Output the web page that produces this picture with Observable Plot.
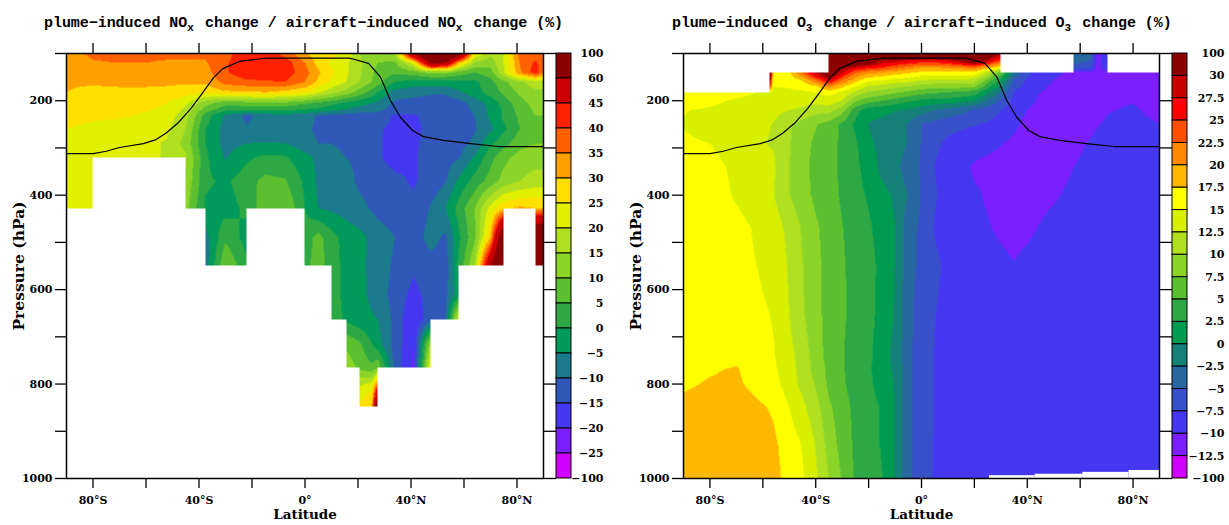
<!DOCTYPE html>
<html>
<head>
<meta charset="utf-8">
<script src="https://cdn.jsdelivr.net/npm/d3@7"></script>
<script src="https://cdn.jsdelivr.net/npm/@observablehq/plot@0.6"></script>
<style>
html,body{margin:0;padding:0;background:#fff}
#page{position:relative;width:1229px;height:525px;overflow:hidden;background:#fff}
#page>svg{position:absolute;top:0;background:transparent}
.ttl{position:absolute;top:15px;font:bold 15px "Liberation Mono",monospace;white-space:pre;color:#000}
.ttl sub{display:inline-block;width:8.9px;font-size:11px;line-height:0;vertical-align:-4px}
</style>
</head>
<body>
<div id="page"></div>
<script>
const _ = null;
const latTicks = [-80,-60,-40,-20,0,20,40,60,80];
const latLabels = {"-80":"80°S","-40":"40°S","0":"0°","40":"40°N","80":"80°N"};
const pTicks = [100,200,300,400,500,600,700,800,900,1000];
const pLabelled = [200,400,600,800,1000];

// NOx panel
const noxLevelsBar = [100,60,45,40,35,30,25,20,15,10,5,0,-5,-10,-15,-20,-25,-100];
const noxColors = ["#8b0000","#cc0000","#ff2000","#ff6000","#ffa000","#ffdf00","#e0f000","#b0e020","#8cd428","#5cbf30","#2ea845","#009b5a","#1d7a8c","#3058b8","#4638f0","#7b1fff","#d000ff"];
const noxLat = [-90,-80,-70,-60,-52,-45,-37.5,-30,-22,-15,-7.5,0,5,10,15.5,20.5,25.2,27.5,34,41,47.5,53,58,64,70,75,81,87,90];
const noxLev = [100,120,140,160,182,205,218,232,260,290,320,370,428,490,550,610,663,715,765,805,847];
const noxGrid = [
[33,36,37,37,37,37,36,38,44,44,38,31,27,26,24,15,13,12,15,62,90,90,70,25,16,20,37,37,37],
[32,34.5,35,35,34,34,34.5,39.5,43,43,43,35,28,24,21,16,12,10,9,22,62,60,30,14,12,20,35,41,37],
[31,31.5,32,32,32,32,33,39.5,43,43,43,37,31,26,21,16,11,8,6,8,12,12,8,5,8,19,34,43,36],
[30.5,30.5,31,31,31,31,31,37,39,39.5,40,35,29,24,20,15,10,7.5,0,-2,-2,-2,-1,-1,3,9,14,18,17],
[30,29,29,29,28.5,27,26.5,29,29,30,28,26,21,17,13,8,3,0,-7,-8,-9,-9,-6,-2,2,6,11,14,14],
[28,27.5,27,26.5,25,21,12,7,8,8.5,8.5,6,4,2,-1,-3,-5,-6,-11,-12,-13,-13,-12,-8,-3,2,8,12,12],
[27,26.5,26,25.5,24,19,8,2,2,2,2,0,-1,-3,-5,-7,-7.7,-8,-12.5,-13,-13.5,-13.5,-12.5,-9,-4,1,7,11,11],
[27,26,25.5,24.5,22.5,17,2.5,-6,-11,-8,-7,-8,-10.5,-11.5,-12,-12.5,-12.8,-13,-15.5,-15.5,-13.5,-13.5,-12.5,-10,-4,1,6,10,10],
[25,23.5,23,22,21,15,0,-7,-9.5,-8,-8,-9,-11,-13,-12,-12,-13.7,-14.5,-16,-16,-14,-13.5,-13,-10.5,-6,-1,5,9,9],
[22,21.5,21,21,19.5,13,0,-7,-5,-4.8,-5,-8,-10,-10,-11.5,-12,-13.7,-14.5,-16.5,-16,-13,-12,-12,-9,-1,3,8,10,10],
[22,21,21,21,19.5,16,1,-5.5,-1,1,0.5,-3.5,-6,-8,-10,-11,-14,-14.5,-16.5,-15.5,-13,-12,-10.5,-4.5,3.5,8.5,12,13,13],
[21.5,21.5,_,_,_,14,1,-1,3,6.5,5.5,-1,-6,-7,-8,-11,-12.3,-13,-14,-15.5,-13,-10.5,-4,2,7,12,15,17,17],
[21.5,21.5,_,_,_,12,-1,-2,1,9,10,0,-5,-6,-7,-8.5,-10.5,-11.5,-13,-14,-9.5,-5,2,10,22,29,31,30,30],
[_,_,_,_,_,_,-7,4,-2,_,_,2,7,2,-2,-3.5,-6,-7.5,-10,-12.5,-8,-11,-1,9,30,80,_,90,90],
[_,_,_,_,_,_,-8,10,1,_,_,3,8,1.5,-1,-4,-6,-7,-11,-14,-12,-13,1,15,60,90,_,90,90],
[_,_,_,_,_,_,_,_,_,_,_,_,_,1.5,-1,-3.5,-6,-7.5,-12,-16.5,-13,-11.5,-2,_,_,_,_,_,_],
[_,_,_,_,_,_,_,_,_,_,_,_,_,3,-1,-3.5,-4.5,-5,-11.5,-20,-11.5,-11,22,_,_,_,_,_,_],
[_,_,_,_,_,_,_,_,_,_,_,_,_,_,9,6,0,-3,-12,-20,15,_,_,_,_,_,_,_,_],
[_,_,_,_,_,_,_,_,_,_,_,_,_,_,13,9,6,9,-12,-21,26,_,_,_,_,_,_,_,_],
[_,_,_,_,_,_,_,_,_,_,_,_,_,_,_,20,24,40,_,_,_,_,_,_,_,_,_,_,_],
[_,_,_,_,_,_,_,_,_,_,_,_,_,_,_,26,29,80,_,_,_,_,_,_,_,_,_,_,_]
];

// O3 panel
const o3LevelsBar = [100,30,27.5,25,22.5,20,17.5,15,12.5,10,7.5,5,2.5,0,-2.5,-5,-7.5,-10,-12.5,-100];
const o3Colors = ["#8b0000","#c80000","#ff0000","#ff5000","#ff8800","#ffb800","#ffff00","#d8f000","#b0e020","#8cd428","#5cbf30","#2ea845","#009b50","#158078","#2868a0","#3850c8","#4638f0","#7b1fff","#d000ff"];
const o3Lat = [-90,-80,-70,-57.5,-56,-50,-45,-40,-35,-30,-25,-20,-15,-10,-5,0,5,10,15,20,30,35,40,50,57.5,64,66.5,70.5,80,90];
const o3Lev = [100,115,130,140,155,170,182,200,220,250,290,340,400,470,550,650,740,770,800,850,925,1000];
const o3Grid = [
[_,_,_,_,_,_,_,_,40,60,80,90,60,50,45,40,40,40,40,40,30,_,_,_,-3,-4,-11,-8,_,_],
[_,_,_,_,_,_,_,_,40,50,38,35,30,29,28,27,27,28,31,35,24,_,_,_,-4,-5,-11,-8,_,_],
[_,_,_,_,_,_,_,_,40,31,28,26,25,23,21.5,20,20,20.5,21,22,16,_,_,_,-6,-7,-11,-8,_,_],
[_,_,_,40,16,17,23,30,36,28,23,21,20,19,18,17,16.5,16.5,17,17,7,-2.5,-7,-9.5,-10.5,-10.6,-11,-10.8,-10.8,-10.9],
[_,_,_,32,15.5,16.2,18,23,29,23,19,16,15.5,14.5,14,13,12.5,12.5,12.5,12,2,-5,-7.8,-10,-10.7,-10.7,-10.8,-10.5,-10.6,-10.9],
[_,_,_,26,15,15.2,15.8,17,21,18,15,12,11.5,10.5,10,9,8.5,8.5,8.5,8,-1,-6.5,-8.5,-10.4,-11,-10.9,-10.8,-10.5,-10.5,-10.8],
[16,16,15.7,14.5,14.5,14.5,14.7,15,16,14.5,12,9.8,9,8,7,6,5.5,5,4.5,4,-3,-7.5,-9.5,-10.5,-11,-11,-10.8,-10.4,-10.3,-10.7],
[16.2,15.6,14.7,14.2,14.2,13.7,13.5,13.3,14,12.5,8,6,5,4,3,2,1.5,1.5,1,0,-5.5,-8.2,-9.6,-10.8,-11,-11,-10.8,-10.2,-10.1,-10.6],
[15.1,14.7,13.8,13.3,13.2,12.5,12,11,11,8.5,3.5,1,0.8,0.2,-0.5,-1.5,-2.5,-3.3,-4.2,-5.2,-7.5,-8.8,-10,-11,-11,-11,-10.7,-10.1,-9.8,-10.5],
[14.9,14.2,13.2,12.6,12.4,10.3,9,7.7,6.5,4.5,2,-0.1,-0.8,-1.5,-2.7,-5,-6,-6.6,-7,-7.3,-8.3,-9.6,-10.6,-11,-11,-10.5,-10.1,-9.7,-9.5,-10],
[15.3,15,13.7,12.4,12.3,10.2,8.5,7,5.8,4.6,2.9,0.4,-0.6,-1.3,-2.6,-5.1,-7,-8,-8.6,-9.3,-9.9,-10.4,-10.8,-11,-10.6,-9.8,-9.5,-9.2,-8.8,-8.6],
[17,15.8,14.5,13,12.9,10,8.4,6.6,5.7,4.6,3.1,1.4,-0.7,-1.8,-3.7,-5.3,-7.5,-8.7,-9.6,-10.2,-10.6,-10.8,-11,-10.8,-10,-9.4,-9.2,-9,-8.8,-8.6],
[16.8,16.2,14.7,12.8,12.6,10.1,8.4,7,5.8,4.7,3.4,2.2,0.9,-0.4,-2.6,-5.1,-7.2,-8.6,-9.5,-9.8,-10.5,-10.6,-10.7,-10.2,-9.6,-9.2,-9,-8.8,-8.6,-8.5],
[16.5,16.3,15.8,14,13.8,11.8,9.7,7.9,6.4,5.1,3.9,2.9,1.4,0.1,-4,-5.5,-7.7,-8.6,-9.2,-9.6,-10.2,-10.4,-10.3,-9.5,-9,-8.8,-8.8,-8.8,-8.7,-8.6],
[16,16,15.8,14.5,14.3,12.2,10.1,8.2,6.6,5.3,4.2,3.3,1.9,0,-4,-5.7,-6.9,-8.2,-8.8,-9.2,-9.7,-9.95,-9.6,-9,-8.8,-8.7,-8.7,-8.7,-8.6,-8.6],
[16,16,16,15,14.8,12.5,10.3,8.2,6.7,5.4,4.2,3.2,1.8,-0.2,-4.3,-6.2,-7.4,-8.4,-8.8,-9,-9.2,-9.2,-9,-8.8,-8.7,-8.7,-8.7,-8.6,-8.6,-8.6],
[16.4,16.7,17,15.4,15.2,13.2,11.4,8.8,6.5,5.2,3.8,3,1.2,-0.7,-4.3,-6.3,-7.6,-8.3,-8.6,-8.7,-8.7,-8.7,-8.7,-8.7,-8.7,-8.7,-8.7,-8.7,-8.7,-8.7],
[16.9,17.3,17.7,15.7,15.5,13.5,11.6,9.1,6.9,5.3,3.8,2.9,1.2,-0.4,-4.3,-6.3,-7.6,-8.3,-8.6,-8.7,-8.7,-8.7,-8.7,-8.7,-8.7,-8.7,-8.7,-8.7,-8.7,-8.7],
[17.2,17.7,17.9,16,15.9,13.8,11.8,9.8,6.9,5.4,4,3,1.5,-0.2,-4.3,-6.3,-7.6,-8.3,-8.6,-8.7,-8.7,-8.7,-8.7,-8.7,-8.7,-8.7,-8.7,-8.7,-8.7,-8.7],
[18,18.5,19,17.4,17.2,15,13.1,11,8,6,4.4,3.4,2.3,0,-4.3,-6.3,-7.6,-8.3,-8.6,-8.7,-8.7,-8.7,-8.7,-8.7,-8.7,-8.7,-8.7,-8.7,-8.7,-8.7],
[19,19,19,18.1,18,16.2,14.8,12.3,9,6.5,4.5,3.5,2.3,-0.2,-4.3,-6.3,-7.7,-8.3,-8.6,-8.7,-8.7,-8.7,-8.7,-8.7,-8.7,-8.7,-8.7,-8.7,-8.7,-8.7],
[19,19,19,18.5,18.3,16.7,15.3,13,10,7.3,4.7,3.6,2.6,0,-4.4,-6.2,-7.7,-8.3,-8.6,-8.7,-8.7,-8.7,-8.7,-8.7,-8.7,-8.7,-8.7,-8.7,-8.7,-8.7]
];
const groundLatFrom = [25.7,43,61,78.5];
const groundLatTo = [43,61,78.5,90];
const groundP = [994,991,987,983];

// tropopause
const tropLat = [-90,-80,-75,-70,-61,-56.5,-52.5,-47.7,-43,-39.4,-34.5,-31,-24.3,-15,17,24,28.5,32.3,36,40.6,44.7,52.3,62.5,72.8,90];
const tropP = [312,312,307,299,291,283,269,246,216,189,151,132,116,110,110,121,150,200,235,263,276,284,291,297,297];

const FONT = '"DejaVu Serif",serif';

function sampler(lat, lev, grid) {
  const lastLev = lev[lev.length - 1];
  return (x, y) => {
    if (y > lastLev) return NaN;
    const i = Math.max(0, Math.min(lat.length - 2, d3.bisectRight(lat, x) - 1));
    const j = Math.max(0, Math.min(lev.length - 2, d3.bisectRight(lev, y) - 1));
    const a = grid[j][i], b = grid[j][i + 1], c = grid[j + 1][i], d = grid[j + 1][i + 1];
    if (a == null || b == null || c == null || d == null) return NaN;
    const u = (x - lat[i]) / (lat[i + 1] - lat[i]), v = (y - lev[j]) / (lev[j + 1] - lev[j]);
    return (a * (1 - u) + b * u) * (1 - v) + (c * (1 - u) + d * u) * v;
  };
}

function panel({lat, lev, grid, levels, colors, width, marginLeft, marginRight, left, extra = []}) {
  const inner = levels.slice(1, -1).slice().reverse();
  const svg = Plot.plot({
    width, height: 525, marginLeft, marginRight, marginTop: 53, marginBottom: 47,
    style: {fontFamily: FONT, fontWeight: "bold", fontSize: "11px", background: "transparent", overflow: "visible"},
    x: {domain: [-90, 90], axis: null},
    y: {domain: [1000, 100], axis: null},
    color: {type: "threshold", domain: inner, range: colors.slice().reverse()},
    marks: [
      Plot.raster({fill: sampler(lat, lev, grid), x1: -90, x2: 90, y1: 100, y2: 1000, pixelSize: 1}),
      ...extra,
      Plot.line(tropLat.map((d, i) => [d, tropP[i]]), {x: "0", y: "1", stroke: "#000", strokeWidth: 1.2}),
      Plot.axisX({anchor: "bottom", ticks: latTicks, tickSize: 10, tickPadding: 8, strokeWidth: 1.3, tickFormat: d => latLabels[d] ?? "", label: null}),
      Plot.axisX({anchor: "top", ticks: latTicks, tickSize: 11, strokeWidth: 1.3, tickFormat: () => "", label: null}),
      Plot.axisY({anchor: "left", ticks: pTicks, tickSize: 11, tickPadding: 3, strokeWidth: 1.3, tickFormat: d => pLabelled.includes(d) ? String(d) : "", label: null}),
      Plot.axisY({anchor: "right", ticks: pTicks, tickSize: 12, strokeWidth: 1.3, tickFormat: () => "", label: null}),
      Plot.frame({stroke: "#000", strokeWidth: 1.5}),
      Plot.text(["Latitude"], {frameAnchor: "bottom", dy: 40, fontSize: 13.5, fontWeight: "bold"}),
      Plot.text(["Pressure (hPa)"], {frameAnchor: "left", textAnchor: "middle", dx: -47, dy: 0, rotate: -90, fontSize: 15.5, fontWeight: "bold"})
    ]
  });
  svg.style.left = left + "px";
  const img = svg.querySelector("image");
  if (img) img.style.filter = "blur(0.45px)";
  return svg;
}

function colorbar({levels, colors, left, labelDx}) {
  const n = colors.length;
  const fmt = d => String(d).replace("-", "\u2212");
  const svg = Plot.plot({
    width: 74, height: 525, marginLeft: 0, marginRight: 59, marginTop: 53, marginBottom: 47,
    style: {fontFamily: FONT, fontWeight: "bold", fontSize: "11px", background: "transparent", overflow: "visible"},
    x: {domain: [0, 1], axis: null},
    y: {domain: [n, 0], axis: null},
    color: {type: "identity"},
    marks: [
      Plot.rect(colors, {x1: 0, x2: 1, y1: (d, i) => i, y2: (d, i) => i + 1, fill: d => d, stroke: "#000", strokeWidth: 1}),
      Plot.text(levels, {y: (d, i) => i, text: fmt, frameAnchor: "right", textAnchor: "end", dx: labelDx})
    ]
  });
  svg.style.left = left + "px";
  return svg;
}

const page = document.getElementById("page");
page.append(
  panel({lat: noxLat, lev: noxLev, grid: noxGrid, levels: noxLevelsBar, colors: noxColors, width: 614, marginLeft: 66, marginRight: 71, left: 0}),
  colorbar({levels: noxLevelsBar, colors: noxColors, left: 555.5, labelDx: 32}),
  panel({lat: o3Lat, lev: o3Lev, grid: o3Grid, levels: o3LevelsBar, colors: o3Colors, width: 615, marginLeft: 69, marginRight: 70, left: 614,
    extra: [Plot.rect(groundP, {x1: (d, i) => groundLatFrom[i], x2: (d, i) => groundLatTo[i], y1: d => d, y2: 1000, fill: "#fff"})]}),
  colorbar({levels: o3LevelsBar, colors: o3Colors, left: 1172, labelDx: 37})
);
const t1 = document.createElement("div"); t1.className = "ttl"; t1.style.left = "44px"; t1.style.letterSpacing = "-0.05px";
t1.innerHTML = "plume\u2212induced NO<sub>x</sub> change / aircraft\u2212induced NO<sub>x</sub> change (%)";
const t2 = document.createElement("div"); t2.className = "ttl"; t2.style.left = "672px"; t2.style.letterSpacing = "-0.08px";
t2.innerHTML = "plume\u2212induced O<sub>3</sub> change / aircraft\u2212induced O<sub>3</sub> change (%)";
page.append(t1, t2);
</script>
</body>
</html>
